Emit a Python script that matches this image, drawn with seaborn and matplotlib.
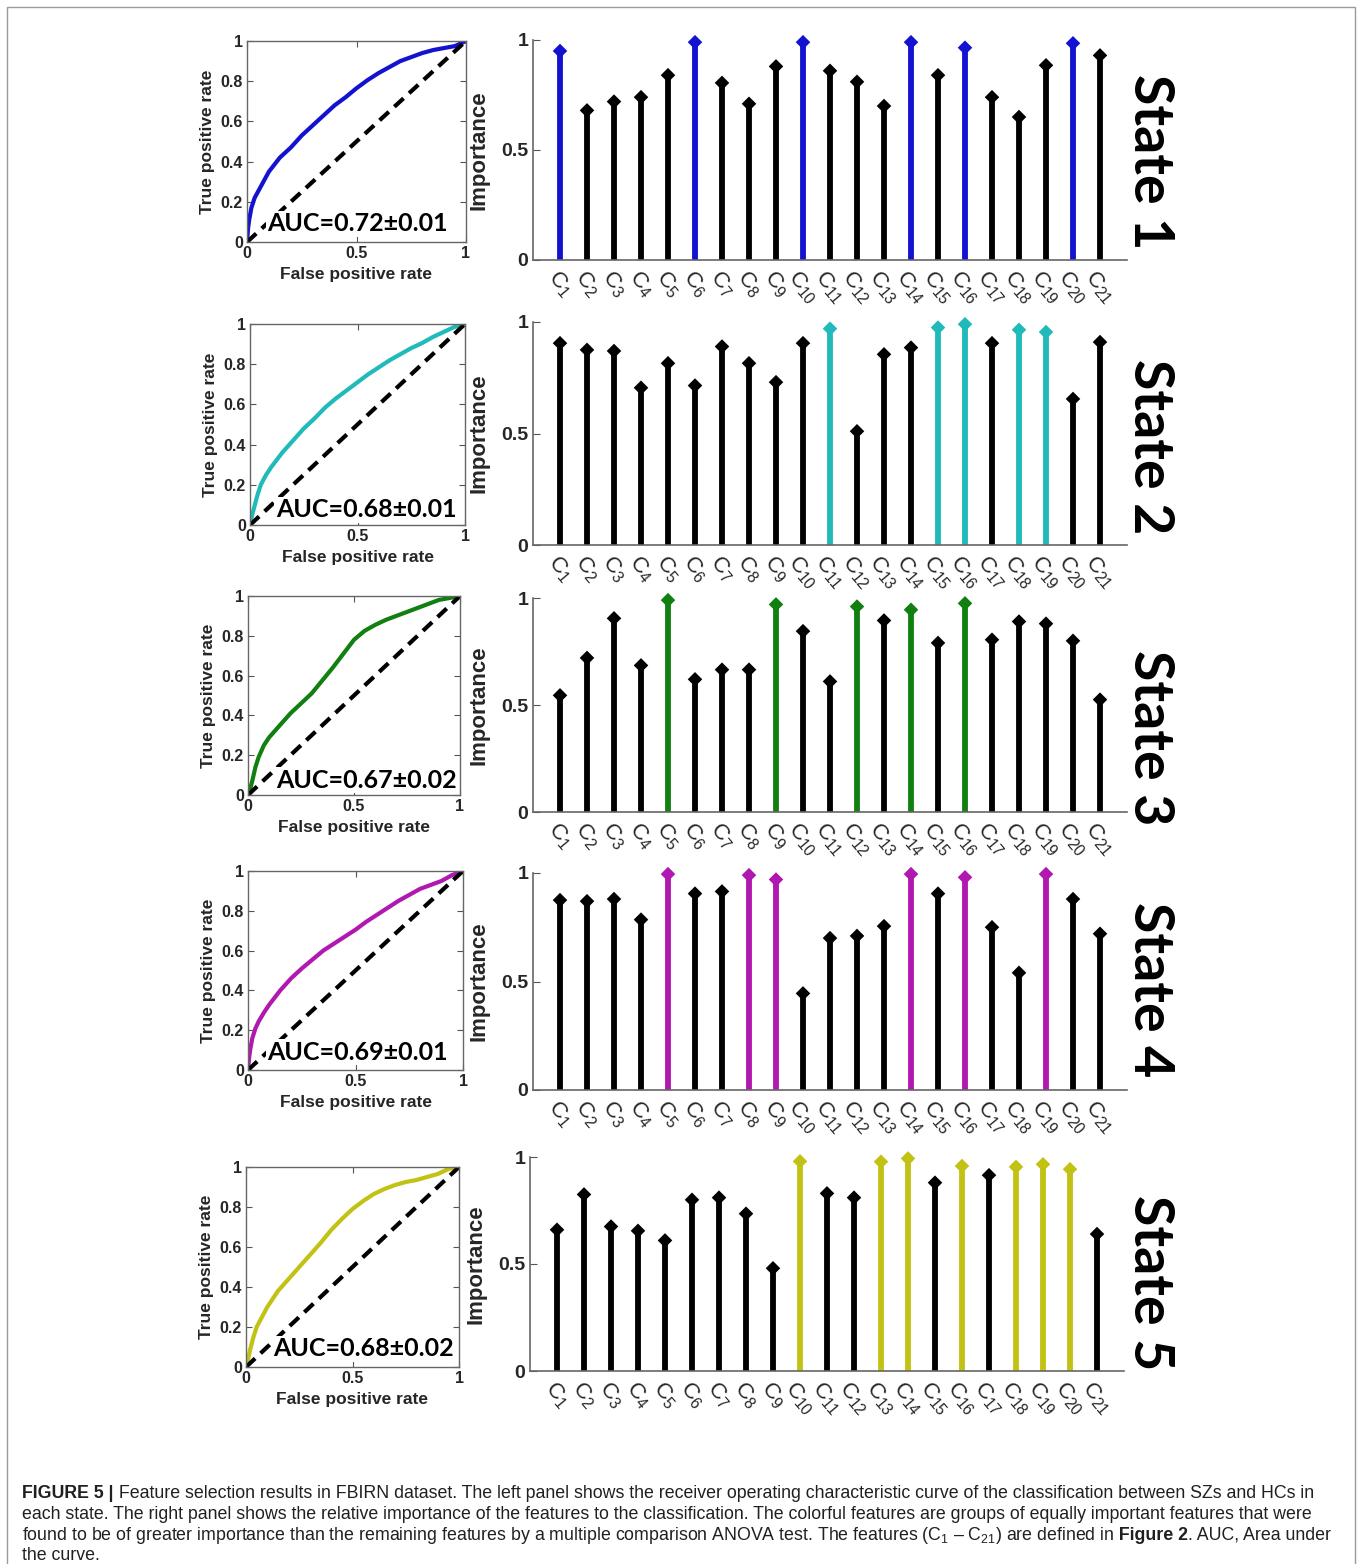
import matplotlib
matplotlib.use("Agg")
import numpy as np
import pandas as pd
import matplotlib.pyplot as plt
import seaborn as sns
from matplotlib import font_manager
from matplotlib.patches import Rectangle

# CONFIG
sns.set_style("ticks")
plt.rcParams["font.family"] = ["Liberation Sans", "DejaVu Sans"]
plt.rcParams["mathtext.fontset"] = "custom"
plt.rcParams["mathtext.rm"] = "Liberation Sans"
plt.rcParams["mathtext.it"] = "Liberation Sans"

installed = {f.name for f in font_manager.fontManager.ttflist}
cap_font = "Liberation Sans Narrow" if "Liberation Sans Narrow" in installed else "Liberation Sans"
cap_size = 15.0 if cap_font == "Liberation Sans Narrow" else 12.75

# DATA
feature_ids = list(range(1, 22))
feature_labels = ["C$_{%d}$" % i for i in feature_ids]

states = ["State 1", "State 2", "State 3", "State 4", "State 5"]
colors = ["#1212d0", "#20baba", "#118011", "#b018b0", "#c2c214"]
auc_labels = ["AUC=0.72±0.01", "AUC=0.68±0.01", "AUC=0.67±0.02",
              "AUC=0.69±0.01", "AUC=0.68±0.02"]

imp1 = [0.95, 0.68, 0.72, 0.74, 0.84, 0.99, 0.805, 0.71, 0.88, 0.99, 0.86,
        0.81, 0.70, 0.99, 0.84, 0.965, 0.74, 0.65, 0.885, 0.985, 0.93]
imp2 = [0.905, 0.875, 0.87, 0.705, 0.815, 0.715, 0.89, 0.815, 0.73, 0.905, 0.97,
        0.51, 0.855, 0.885, 0.975, 0.99, 0.905, 0.965, 0.955, 0.655, 0.91]
imp3 = [0.545, 0.72, 0.905, 0.685, 0.99, 0.62, 0.665, 0.665, 0.97, 0.845, 0.61,
        0.96, 0.895, 0.945, 0.79, 0.975, 0.805, 0.89, 0.88, 0.80, 0.525]
imp4 = [0.875, 0.87, 0.88, 0.785, 0.995, 0.905, 0.915, 0.99, 0.97, 0.445, 0.70,
        0.71, 0.755, 0.995, 0.905, 0.98, 0.75, 0.54, 0.995, 0.88, 0.72]
imp5 = [0.66, 0.825, 0.675, 0.655, 0.61, 0.80, 0.81, 0.735, 0.48, 0.98, 0.83,
        0.81, 0.978, 0.993, 0.88, 0.958, 0.915, 0.954, 0.966, 0.943, 0.64]

sel1 = [1, 6, 10, 14, 16, 20]
sel2 = [11, 15, 16, 18, 19]
sel3 = [5, 9, 12, 14, 16]
sel4 = [5, 8, 9, 14, 16, 19]
sel5 = [10, 13, 14, 16, 18, 19, 20]

roc1_fpr = [0, 0.005, 0.01, 0.02, 0.035, 0.05, 0.075, 0.1, 0.15, 0.2, 0.25, 0.3, 0.35, 0.4,
            0.45, 0.5, 0.55, 0.6, 0.65, 0.7, 0.75, 0.8, 0.85, 0.9, 0.95, 1]
roc1_tpr = [0, 0.07, 0.11, 0.17, 0.22, 0.25, 0.3, 0.35, 0.42, 0.47, 0.53, 0.58, 0.63, 0.68,
            0.72, 0.765, 0.805, 0.84, 0.87, 0.9, 0.92, 0.94, 0.955, 0.965, 0.975, 1]
roc2_fpr = [0, 0.01, 0.02, 0.035, 0.05, 0.075, 0.1, 0.15, 0.2, 0.25, 0.3, 0.35, 0.4,
            0.45, 0.5, 0.55, 0.6, 0.65, 0.7, 0.75, 0.8, 0.85, 0.9, 0.95, 1]
roc2_tpr = [0, 0.05, 0.09, 0.15, 0.2, 0.25, 0.29, 0.36, 0.42, 0.48, 0.53, 0.585, 0.63,
            0.67, 0.71, 0.75, 0.785, 0.82, 0.85, 0.88, 0.905, 0.935, 0.96, 0.985, 1]
roc3_fpr = [0, 0.01, 0.02, 0.035, 0.05, 0.075, 0.1, 0.15, 0.2, 0.25, 0.3, 0.35, 0.4,
            0.45, 0.5, 0.55, 0.6, 0.65, 0.7, 0.75, 0.8, 0.85, 0.9, 0.95, 1]
roc3_tpr = [0, 0.03, 0.07, 0.14, 0.19, 0.25, 0.29, 0.35, 0.41, 0.46, 0.51, 0.575, 0.64,
            0.71, 0.78, 0.825, 0.855, 0.88, 0.9, 0.92, 0.94, 0.96, 0.98, 0.99, 1]
roc4_fpr = [0, 0.005, 0.01, 0.02, 0.035, 0.05, 0.075, 0.1, 0.15, 0.2, 0.25, 0.3, 0.35, 0.4,
            0.45, 0.5, 0.55, 0.6, 0.65, 0.7, 0.75, 0.8, 0.85, 0.9, 0.95, 1]
roc4_tpr = [0, 0.06, 0.1, 0.16, 0.21, 0.245, 0.29, 0.33, 0.4, 0.46, 0.51, 0.555, 0.6, 0.635,
            0.67, 0.705, 0.745, 0.78, 0.815, 0.85, 0.88, 0.91, 0.93, 0.95, 0.98, 1]
roc5_fpr = [0, 0.01, 0.02, 0.035, 0.05, 0.075, 0.1, 0.15, 0.2, 0.25, 0.3, 0.35, 0.4,
            0.45, 0.5, 0.55, 0.6, 0.65, 0.7, 0.75, 0.8, 0.85, 0.9, 0.95, 1]
roc5_tpr = [0, 0.04, 0.09, 0.15, 0.2, 0.25, 0.3, 0.38, 0.44, 0.5, 0.56, 0.62, 0.685,
            0.74, 0.79, 0.83, 0.865, 0.89, 0.91, 0.925, 0.935, 0.95, 0.965, 0.99, 1]

importances = [imp1, imp2, imp3, imp4, imp5]
selected = [sel1, sel2, sel3, sel4, sel5]
rocs = [(roc1_fpr, roc1_tpr), (roc2_fpr, roc2_tpr), (roc3_fpr, roc3_tpr),
        (roc4_fpr, roc4_tpr), (roc5_fpr, roc5_tpr)]

# LAYOUT (pixels in the 1360x1564 canvas)
W, H = 1360, 1564
roc_box = [(247, 466, 41, 242), (250, 465, 324, 525), (248, 460, 596, 795),
           (248, 463, 871, 1070), (246, 459, 1167, 1367)]
bar_box = [(533, 1127, 40, 260), (533, 1127, 322, 545), (533, 1127, 598, 812),
           (533, 1127, 873, 1090), (530, 1124, 1157, 1371)]
auc_pos = [(0.505, 0.09), (0.54, 0.075), (0.56, 0.075), (0.51, 0.09), (0.55, 0.09)]
state_y = [162, 447, 738, 990, 1283]


def frac(box):
    x0, x1, y0, y1 = box
    return [x0 / W, 1 - y1 / H, (x1 - x0) / W, (y1 - y0) / H]


fig = plt.figure(figsize=(W / 100, H / 100), dpi=100)
fig.patches.append(Rectangle((7 / W, -0.01), 1348 / W, 1 - 7 / H + 0.01,
                             transform=fig.transFigure, fill=False,
                             edgecolor="#9a9a9a", lw=1))

tick_kw = dict(fontsize=11.5, fontweight="bold", color="#262626")

for k in range(5):
    color = colors[k]

    # ROC panel
    ax = fig.add_axes(frac(roc_box[k]))
    fpr, tpr = rocs[k]
    sns.lineplot(x=fpr, y=tpr, sort=False, estimator=None, color=color,
                 lw=3, ax=ax)
    ax.plot([0, 1], [0, 1], ls=(0, (3, 1.8)), lw=3, color="black")
    ax.set_xlim(0, 1)
    ax.set_ylim(0, 1)
    ax.set_xticks([0, 0.5, 1])
    ax.set_xticklabels(["0", "0.5", "1"], **tick_kw)
    ax.set_yticks([0, 0.2, 0.4, 0.6, 0.8, 1])
    ax.set_yticklabels(["0", "0.2", "0.4", "0.6", "0.8", "1"], **tick_kw)
    ax.tick_params(direction="in", length=4, top=True, right=True,
                   color="#555555", pad=3)
    for s in ax.spines.values():
        s.set_color("#666666")
        s.set_linewidth(1)
    ax.set_xlabel("False positive rate", fontsize=12.5, fontweight="bold",
                  color="#262626", labelpad=4)
    ax.set_ylabel("True positive rate", fontsize=12.5, fontweight="bold",
                  color="#262626", labelpad=4)
    ax.text(auc_pos[k][0], auc_pos[k][1], auc_labels[k], transform=ax.transAxes,
            ha="center", va="center", fontsize=18, fontweight="bold",
            family=["Lato", "DejaVu Sans"], color="black", zorder=5,
            bbox=dict(facecolor="white", edgecolor="none", pad=1))

    # importance stems
    bx = fig.add_axes(frac(bar_box[k]))
    df = pd.DataFrame({"feature": feature_ids, "importance": importances[k]})
    df["sel"] = df["feature"].isin(selected[k])
    df["color"] = np.where(df["sel"], color, "black")
    bx.vlines(df["feature"], 0, df["importance"], colors=df["color"], lw=4.2)
    sns.scatterplot(data=df, x="feature", y="importance", hue="sel",
                    palette={False: "black", True: color}, marker="D", s=55,
                    edgecolor="none", legend=False, clip_on=False, ax=bx,
                    zorder=3)
    bx.set_xlim(0, 22)
    bx.set_ylim(0, 1)
    bx.set_xticks(feature_ids)
    bx.set_xticklabels(feature_labels, rotation=-50, ha="center", va="top",
                       fontsize=16, color="#262626")
    bx.set_yticks([0, 0.5, 1])
    bx.set_yticklabels(["0", "0.5", "1"], fontsize=14, fontweight="bold",
                       color="#262626")
    bx.tick_params(axis="y", direction="in", length=5, color="#555555")
    bx.tick_params(axis="x", length=0, pad=5)
    sns.despine(ax=bx)
    for s in ["left", "bottom"]:
        bx.spines[s].set_color("#666666")
        bx.spines[s].set_linewidth(1.2)
    bx.set_xlabel("")
    bx.set_ylabel("Importance", fontsize=16, fontweight="bold", color="#262626",
                  labelpad=8)

    fig.text(1150 / W, 1 - state_y[k] / H, states[k], rotation=-90,
             ha="center", va="center", fontsize=40, fontweight="bold",
             family=["Lato", "DejaVu Sans"], color="black")

# CAPTION
caption = [
    [("FIGURE 5 |", "bold"), (" Feature selection results in FBIRN dataset. The left panel shows the receiver operating characteristic curve of the classification between SZs and HCs in", "normal")],
    [("each state. The right panel shows the relative importance of the features to the classification. The colorful features are groups of equally important features that were", "normal")],
    [("found to be of greater importance than the remaining features by a multiple comparison ANOVA test. The features (C$_1$ – C$_{21}$) are defined in", "normal"),
     (" Figure 2", "bold"), (". AUC, Area under", "normal")],
    [("the curve.", "normal")],
]
caption_y = [1498, 1519, 1540, 1560]

renderer = fig.canvas.get_renderer()
for line, ypx in zip(caption, caption_y):
    xpx = 22
    for txt, weight in line:
        t = fig.text(xpx / W, 1 - ypx / H, txt, ha="left", va="baseline",
                     fontsize=cap_size, fontweight=weight,
                     family=[cap_font, "DejaVu Sans"], color="#231f20")
        xpx += t.get_window_extent(renderer).width

fig.savefig("out.png", dpi=100)
